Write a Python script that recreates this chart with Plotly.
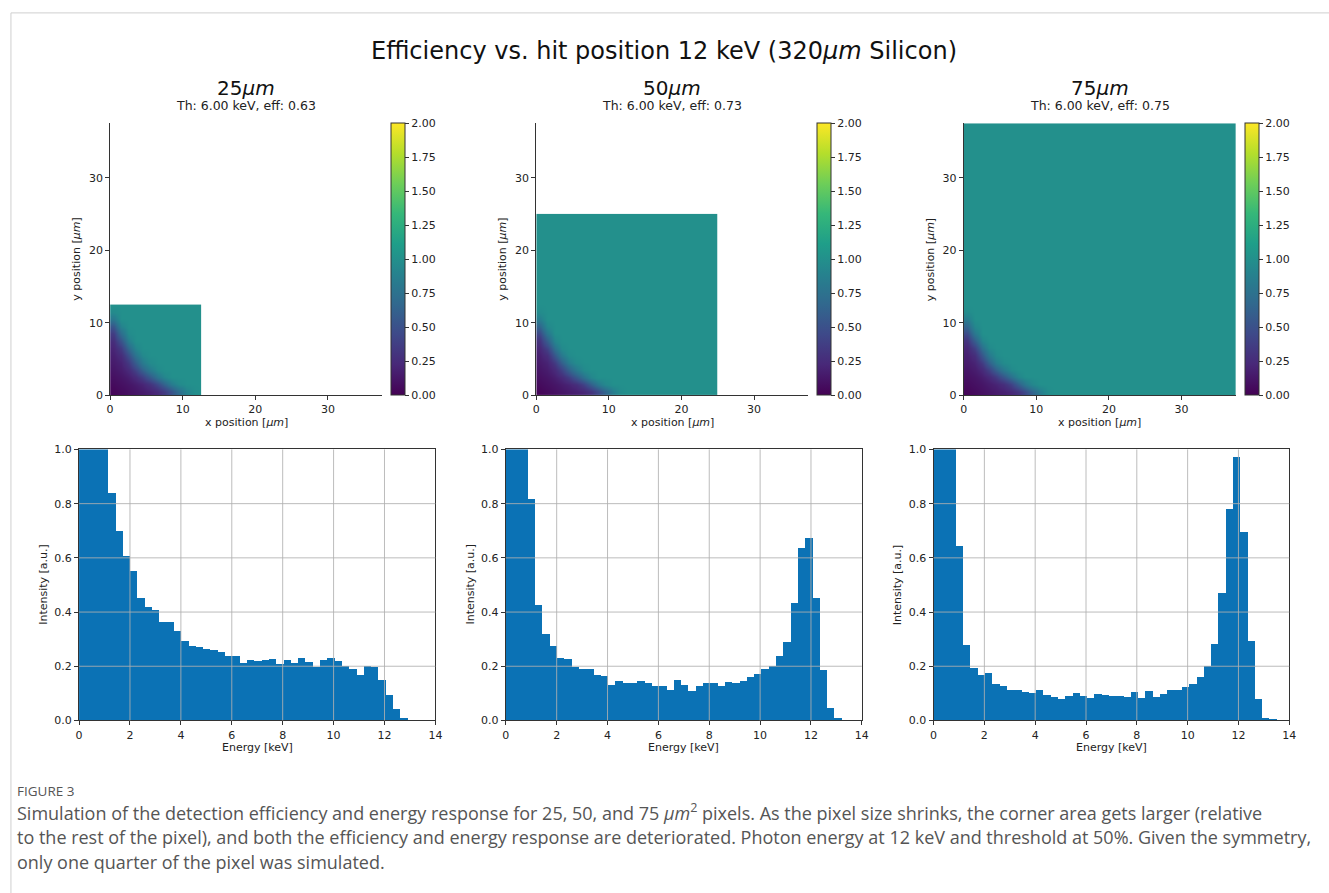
import plotly.graph_objects as go

W, H = 1329, 893

# ---------------- DATA ----------------
pixel_sizes = ["25", "50", "75"]
thresholds = ["6.00", "6.00", "6.00"]
efficiencies = ["0.63", "0.73", "0.75"]
quarter_extent = [12.5, 25.0, 37.5]   # um, simulated quarter pixel

# efficiency map near the pixel corner, 1 um cells, rows = y, cols = x (rest of map ~1.0)
corner_25 = [
    [0.03, 0.06, 0.09, 0.12, 0.15, 0.19, 0.25, 0.36, 0.52, 0.72, 0.90, 0.98],
    [0.06, 0.09, 0.12, 0.16, 0.21, 0.30, 0.45, 0.65, 0.84, 0.96],
    [0.09, 0.12, 0.17, 0.25, 0.38, 0.57, 0.78, 0.93],
    [0.12, 0.16, 0.24, 0.40, 0.62, 0.82, 0.96],
    [0.15, 0.20, 0.35, 0.60, 0.83, 0.96],
    [0.18, 0.26, 0.50, 0.78, 0.95],
    [0.21, 0.36, 0.68, 0.92],
    [0.26, 0.52, 0.86],
    [0.36, 0.72, 0.97],
    [0.55, 0.90],
    [0.80],
    [0.96],
]
corner_50_75 = [
    [0.03, 0.06, 0.09, 0.12, 0.15, 0.18, 0.22, 0.30, 0.45, 0.65, 0.85, 0.97],
    [0.06, 0.09, 0.12, 0.16, 0.20, 0.27, 0.40, 0.60, 0.80, 0.94],
    [0.09, 0.12, 0.17, 0.24, 0.36, 0.55, 0.75, 0.92],
    [0.12, 0.16, 0.24, 0.40, 0.62, 0.82, 0.96],
    [0.15, 0.20, 0.36, 0.62, 0.85, 0.97],
    [0.18, 0.27, 0.55, 0.82, 0.97],
    [0.22, 0.40, 0.75, 0.96],
    [0.30, 0.60, 0.92],
    [0.45, 0.80],
    [0.65, 0.94],
    [0.85],
    [0.97],
]
bulk_efficiency = 1.0

# energy spectra (normalised, bins of 0.287 keV from 0); first bins exceed the 1.0 axis limit
BIN_WIDTH = 0.287
hist_25 = [1.6, 1.45, 1.3, 1.1, 0.839, 0.699, 0.604, 0.548, 0.452, 0.416, 0.406, 0.360, 0.360,
           0.330, 0.293, 0.273, 0.269, 0.261, 0.258, 0.251, 0.235, 0.235, 0.212, 0.221, 0.217,
           0.221, 0.224, 0.208, 0.221, 0.212, 0.227, 0.215, 0.194, 0.221, 0.227, 0.217, 0.200,
           0.187, 0.167, 0.200, 0.196, 0.149, 0.093, 0.040, 0.005, 0.0, 0.0]
hist_50 = [1.9, 1.5, 1.15, 0.816, 0.424, 0.318, 0.273, 0.227, 0.224, 0.196, 0.188, 0.190, 0.167,
           0.164, 0.130, 0.145, 0.138, 0.138, 0.143, 0.136, 0.127, 0.125, 0.109, 0.148, 0.130,
           0.107, 0.124, 0.137, 0.135, 0.127, 0.142, 0.137, 0.145, 0.158, 0.168, 0.188, 0.200,
           0.236, 0.287, 0.433, 0.636, 0.670, 0.450, 0.184, 0.045, 0.008, 0.0]
hist_75 = [2.0, 1.6, 1.2, 0.641, 0.278, 0.193, 0.167, 0.172, 0.133, 0.127, 0.109, 0.112, 0.105,
           0.101, 0.109, 0.093, 0.085, 0.078, 0.088, 0.098, 0.088, 0.080, 0.096, 0.092, 0.088,
           0.088, 0.084, 0.103, 0.080, 0.107, 0.084, 0.096, 0.109, 0.112, 0.121, 0.133, 0.158,
           0.200, 0.281, 0.470, 0.779, 0.970, 0.693, 0.293, 0.079, 0.008, 0.002]
hists = [hist_25, hist_50, hist_75]

heat_ticks = [0, 10, 20, 30]
cbar_ticks = [0, 0.25, 0.5, 0.75, 1.0, 1.25, 1.5, 1.75, 2.0]
energy_ticks = [0, 2, 4, 6, 8, 10, 12, 14]
intensity_ticks = [0.0, 0.2, 0.4, 0.6, 0.8, 1.0]

caption_lines = [
    "Simulation of the detection efficiency and energy response for 25, 50, and 75 <i>μm</i><sup>2</sup> pixels. As the pixel size shrinks, the corner area gets larger (relative",
    "to the rest of the pixel), and both the efficiency and energy response are deteriorated. Photon energy at 12 keV and threshold at 50%. Given the symmetry,",
    "only one quarter of the pixel was simulated.",
]

# ---------------- LAYOUT GEOMETRY (pixels) ----------------
heat_x = [(107, 381.5), (536.7, 811.2), (967.7, 1242.2)]
heat_y = (119, 395)
cbar_x = [390, 820, 1251]
hist_x = [(75.7, 435), (506, 865), (937.3, 1296)]
hist_y = (450, 725)

FONT = "DejaVu Sans"
TXT = "#222222"
BAR = "#0b72b5"


def fx(p):
    return p / W


def fy(p):
    return 1 - p / H


def build_map(extent, corner):
    n_full = int(extent)
    edges = [float(i) for i in range(n_full + 1)]
    if extent > n_full:
        edges.append(extent)
    n = len(edges) - 1
    z = [[bulk_efficiency] * n for _ in range(n)]
    for j, row in enumerate(corner):
        for i, v in enumerate(row):
            if j < n and i < n:
                z[j][i] = v
    return edges, z


fig = go.Figure()
layout = dict()
annotations = []
shapes = []

corners = [corner_25, corner_50_75, corner_50_75]
for k in range(3):
    xa = "x" if k == 0 else f"x{k + 1}"
    ya = "y" if k == 0 else f"y{k + 1}"
    edges, z = build_map(quarter_extent[k], corners[k])
    fig.add_trace(go.Heatmap(
        z=z, x=edges, y=edges, xaxis=xa, yaxis=ya,
        colorscale="Viridis", zmin=0, zmax=2, zsmooth="best",
        hoverinfo="skip",
        colorbar=dict(
            x=fx(cbar_x[k]), xanchor="left", xpad=0, xref="paper",
            y=fy(heat_y[1]), yanchor="bottom", ypad=0, yref="paper",
            len=(heat_y[1] - heat_y[0]) / H, lenmode="fraction",
            thickness=14, outlinewidth=1, outlinecolor="#333",
            tickvals=cbar_ticks, tickformat=".2f", ticks="outside", ticklen=4,
            tickcolor="#333", tickfont=dict(family=FONT, size=11, color=TXT),
        ),
    ))
    axis_common = dict(showgrid=False, zeroline=False, showline=True, linecolor="#333",
                       linewidth=1, ticks="outside", ticklen=4, tickcolor="#333",
                       tickfont=dict(family=FONT, size=11, color=TXT), tickvals=heat_ticks)
    layout["xaxis" if k == 0 else f"xaxis{k + 1}"] = dict(
        domain=[fx(heat_x[k][0]), fx(heat_x[k][1])], range=[0, 37.5],
        anchor=ya, **axis_common)
    layout["yaxis" if k == 0 else f"yaxis{k + 1}"] = dict(
        domain=[fy(heat_y[1]), fy(heat_y[0])], range=[0, 37.5],
        anchor=xa, **axis_common)

    cx = (heat_x[k][0] + heat_x[k][1]) / 2
    annotations += [
        dict(text=f"{pixel_sizes[k]}<i>μm</i>", x=fx(cx), y=fy(83), xref="paper", yref="paper",
             showarrow=False, xanchor="center", yanchor="middle",
             font=dict(family=FONT, size=20, color="#111")),
        dict(text=f"Th: {thresholds[k]} keV, eff: {efficiencies[k]}", x=fx(cx), y=fy(101),
             xref="paper", yref="paper", showarrow=False, xanchor="center", yanchor="middle",
             font=dict(family=FONT, size=12.5, color=TXT)),
        dict(text="x position [<i>μm</i>]", x=fx(cx), y=fy(423), xref="paper", yref="paper",
             showarrow=False, xanchor="center", yanchor="middle",
             font=dict(family=FONT, size=11, color=TXT)),
        dict(text="y position [<i>μm</i>]", x=fx(heat_x[k][0] - 34), y=fy(257), xref="paper",
             yref="paper", showarrow=False, xanchor="center", yanchor="middle", textangle=-90,
             font=dict(family=FONT, size=11, color=TXT)),
    ]

# histograms
for k in range(3):
    idx = k + 4
    xa, ya = f"x{idx}", f"y{idx}"
    vals = hists[k]
    centers = [(i + 0.5) * BIN_WIDTH for i in range(len(vals))]
    fig.add_trace(go.Bar(x=centers, y=vals, width=BIN_WIDTH, xaxis=xa, yaxis=ya,
                         marker=dict(color=BAR, line=dict(width=0)), hoverinfo="skip",
                         showlegend=False))
    hcommon = dict(showgrid=False, zeroline=False, showline=True, mirror=True,
                   linecolor="#333", linewidth=1, ticks="outside", ticklen=4, tickcolor="#333",
                   tickfont=dict(family=FONT, size=11, color=TXT))
    layout[f"xaxis{idx}"] = dict(domain=[fx(hist_x[k][0]), fx(hist_x[k][1])], range=[0, 14],
                                 tickvals=energy_ticks, anchor=ya, **hcommon)
    layout[f"yaxis{idx}"] = dict(domain=[fy(hist_y[1]), fy(hist_y[0])], range=[0, 1],
                                 tickvals=intensity_ticks, tickformat=".1f", anchor=xa, **hcommon)
    # grid drawn above bars (as in the original)
    for t in energy_ticks[1:-1]:
        shapes.append(dict(type="line", xref=xa, yref=f"{ya} domain", x0=t, x1=t, y0=0, y1=1,
                           line=dict(color="rgba(176,176,176,0.85)", width=1), layer="above"))
    for t in intensity_ticks[1:-1]:
        shapes.append(dict(type="line", xref=f"{xa} domain", yref=ya, x0=0, x1=1, y0=t, y1=t,
                           line=dict(color="rgba(176,176,176,0.85)", width=1), layer="above"))
    cx = (hist_x[k][0] + hist_x[k][1]) / 2
    annotations += [
        dict(text="Energy [keV]", x=fx(cx), y=fy(752), xref="paper", yref="paper",
             showarrow=False, xanchor="center", yanchor="middle",
             font=dict(family=FONT, size=11, color=TXT)),
        dict(text="Intensity [a.u.]", x=fx(hist_x[k][0] - 36), y=fy(587), xref="paper",
             yref="paper", showarrow=False, xanchor="center", yanchor="middle", textangle=-90,
             font=dict(family=FONT, size=11, color=TXT)),
    ]

# main title
annotations.append(dict(text="Efficiency vs. hit position 12 keV (320<i>μm</i> Silicon)",
                        x=fx(666), y=fy(46), xref="paper", yref="paper", showarrow=False,
                        xanchor="center", yanchor="middle",
                        font=dict(family=FONT, size=24, color="#111")))

# caption
annotations.append(dict(text="FIGURE 3", x=fx(11), y=fy(797), xref="paper", yref="paper",
                        showarrow=False, xanchor="left", yanchor="middle",
                        font=dict(family="Open Sans", size=13.5, color="#555")))
for i, line in enumerate(caption_lines):
    annotations.append(dict(text=line, x=fx(11), y=fy(818 + 25.5 * i), xref="paper",
                            yref="paper", showarrow=False, xanchor="left", yanchor="middle",
                            font=dict(family="Open Sans", size=18, color="#555")))

# page border (top and left)
shapes.append(dict(type="line", xref="paper", yref="paper", x0=fx(7), x1=1.02, y0=fy(7),
                   y1=fy(7), line=dict(color="#cfcfcf", width=1)))
shapes.append(dict(type="line", xref="paper", yref="paper", x0=fx(7), x1=fx(7), y0=fy(7),
                   y1=-0.02, line=dict(color="#cfcfcf", width=1)))

fig.update_layout(
    width=W, height=H, margin=dict(l=0, r=0, t=0, b=0),
    paper_bgcolor="white", plot_bgcolor="white",
    showlegend=False, bargap=0, annotations=annotations, shapes=shapes,
    **layout,
)

fig.write_html("out.html", config={"displayModeBar": False})
